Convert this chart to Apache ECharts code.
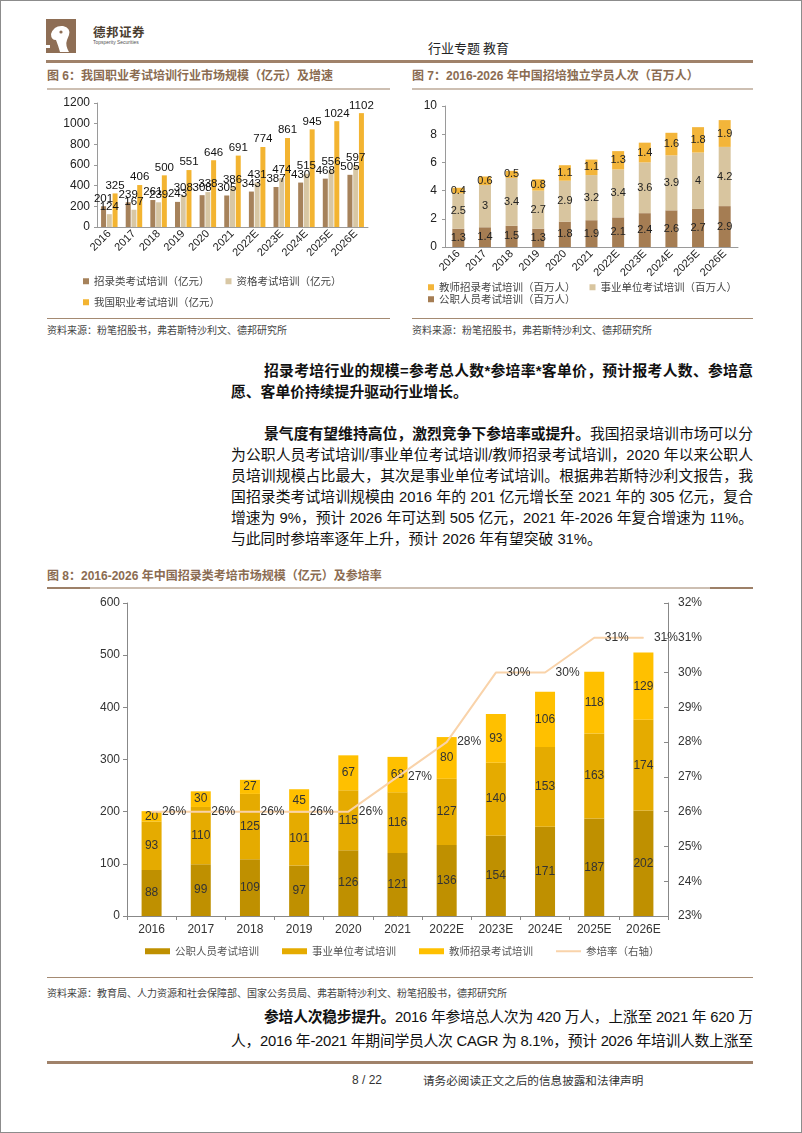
<!DOCTYPE html>
<html>
<head>
<meta charset="utf-8">
<script src="https://cdn.jsdelivr.net/npm/echarts/dist/echarts.min.js"></script>
<style>
  html,body{margin:0;padding:0;background:#fff;}
  body{width:802px;height:1133px;position:relative;overflow:hidden;font-family:"Liberation Sans","Noto Sans CJK SC",sans-serif;}
  .abs{position:absolute;}
  .frame{left:0;top:0;width:802px;height:1133px;box-sizing:border-box;border:1px solid #8c8c8c;}
  .ftitle{font-size:12px;line-height:14px;font-weight:bold;color:#8b6c52;white-space:nowrap;}
  .src{font-size:10px;line-height:12px;color:#444;white-space:nowrap;}
  .jl{font-size:14.8px;line-height:20px;color:#111;white-space:nowrap;}
  .jl b{font-weight:bold;}
</style>
</head>
<body>
<div class="abs frame"></div>

<!-- header -->
<svg class="abs" style="left:46px;top:19px" width="32" height="35">
  <rect x="0" y="0" width="30" height="34" fill="#8e6e55"/>
  <path d="M5 15 Q8 6 17 7 Q25 9 23 16 L21 21 Q19 26 23 33 L14 33 Q12 26 10 21 Q5 21 5 15 Z" fill="#fff"/>
  <circle cx="15" cy="13" r="1.6" fill="#8e6e55"/>
  <rect x="0" y="26" width="4" height="3" fill="#fff"/>
</svg>
<div class="abs" style="left:93px;top:25px;font-size:12.5px;line-height:14px;font-weight:bold;color:#4b3d30;letter-spacing:0.5px;font-family:'Noto Sans CJK SC'">德邦证券</div>
<div class="abs" style="left:93px;top:40px;font-size:8px;line-height:8px;color:#555;transform:scale(0.62);transform-origin:0 0;white-space:nowrap">Topsperity Securities</div>
<div class="abs" style="left:428px;top:40px;font-size:13px;line-height:15px;color:#222;font-family:'Noto Sans CJK SC'">行业专题 教育</div>
<div class="abs" style="left:46px;top:60px;width:707px;height:3px;background:#a0826a"></div>

<!-- figure titles -->
<div class="abs ftitle" style="left:47px;top:69px">图 6：我国职业考试培训行业市场规模（亿元）及增速</div>
<div class="abs" style="left:47px;top:88px;width:343px;height:2px;background:#cdbfb2"></div>
<div class="abs ftitle" style="left:412px;top:69px">图 7：2016-2026 年中国招培独立学员人次（百万人）</div>
<div class="abs" style="left:412px;top:88px;width:341px;height:2px;background:#cdbfb2"></div>

<div id="c6" class="abs" style="left:40px;top:92px;width:360px;height:226px"></div>
<div id="c7" class="abs" style="left:405px;top:92px;width:360px;height:226px"></div>

<div class="abs" style="left:47px;top:318px;width:343px;height:1px;background:#a48a72"></div>
<div class="abs src" style="left:47px;top:325px">资料来源：粉笔招股书，弗若斯特沙利文、德邦研究所</div>
<div class="abs" style="left:412px;top:318px;width:341px;height:1px;background:#a48a72"></div>
<div class="abs src" style="left:412px;top:325px">资料来源：粉笔招股书，弗若斯特沙利文、德邦研究所</div>

<!-- paragraphs -->
<div class="abs jl fit" style="left:264px;top:361px;width:489px"><span><b>招录考培行业的规模=参考总人数*参培率*客单价，预计报考人数、参培意</b></span></div>
<div class="abs jl" style="left:231px;top:382px;width:522px"><span><b>愿、客单价持续提升驱动行业增长。</b></span></div>

<div class="abs jl fit" style="left:264px;top:424px;width:489px"><span><b>景气度有望维持高位，激烈竞争下参培率或提升。</b>我国招录培训市场可以分</span></div>
<div class="abs jl fit" style="left:231px;top:445px;width:522px"><span>为公职人员考试培训/事业单位考试培训/教师招录考试培训，2020 年以来公职人</span></div>
<div class="abs jl fit" style="left:231px;top:466px;width:522px"><span>员培训规模占比最大，其次是事业单位考试培训。根据弗若斯特沙利文报告，我</span></div>
<div class="abs jl fit" style="left:231px;top:487px;width:522px"><span>国招录类考试培训规模由 2016 年的 201 亿元增长至 2021 年的 305 亿元，复合</span></div>
<div class="abs jl fit" style="left:231px;top:508px;width:522px"><span>增速为 9%，预计 2026 年可达到 505 亿元，2021 年-2026 年复合增速为 11%。</span></div>
<div class="abs jl" style="left:231px;top:529px;width:522px"><span>与此同时参培率逐年上升，预计 2026 年有望突破 31%。</span></div>

<!-- figure 8 -->
<div class="abs ftitle" style="left:47px;top:569px">图 8：2016-2026 年中国招录类考培市场规模（亿元）及参培率</div>
<div class="abs" style="left:47px;top:587px;width:706px;height:2px;background:#cdbfb2"></div>
<div class="abs" style="left:47px;top:587px;width:43px;height:2px;background:#9d8068"></div>
<div class="abs" style="left:710px;top:587px;width:43px;height:2px;background:#9d8068"></div>
<div id="c8" class="abs" style="left:40px;top:592px;width:722px;height:380px"></div>
<div class="abs" style="left:47px;top:977px;width:706px;height:1px;background:#a48a72"></div>
<div class="abs src" style="left:47px;top:988px">资料来源：教育局、人力资源和社会保障部、国家公务员局、弗若斯特沙利文、粉笔招股书，德邦研究所</div>

<div class="abs jl fit" style="left:264px;top:1007px;width:489px"><span><b>参培人次稳步提升。</b>2016 年参培总人次为 420 万人，上涨至 2021 年 620 万</span></div>
<div class="abs jl fit" style="left:231px;top:1031px;width:522px"><span>人，2016 年-2021 年期间学员人次 CAGR 为 8.1%，预计 2026 年培训人数上涨至</span></div>

<!-- footer -->
<div class="abs" style="left:47px;top:1061px;width:706px;height:3px;background:#a0826a"></div>
<div class="abs" style="left:352px;top:1073px;font-size:12px;line-height:14px;color:#333">8 / 22</div>
<div class="abs" style="left:423px;top:1073px;font-size:11.6px;line-height:14px;color:#333;font-family:'Noto Sans CJK SC';white-space:nowrap">请务必阅读正文之后的信息披露和法律声明</div>

<script>
// ---------- data ----------
const years = ['2016','2017','2018','2019','2020','2021','2022E','2023E','2024E','2025E','2026E'];

// Figure 6 (亿元)
const fig6Recruit       = [201,239,261,243,308,305,343,387,430,468,505];
const fig6Qualification = [124,167,239,308,338,386,431,474,515,556,597];
const fig6Vocational    = [325,406,500,551,646,691,774,861,945,1024,1102];

// Figure 7 (百万人)
const fig7Civil   = [1.3,1.4,1.5,1.3,1.8,1.9,2.1,2.4,2.6,2.7,2.9];
const fig7Public  = [2.5,3,3.4,2.7,2.9,3.2,3.4,3.6,3.9,4,4.2];
const fig7Teacher = [0.4,0.6,0.5,0.8,1.1,1.1,1.3,1.4,1.6,1.8,1.9];

// Figure 8 (亿元, %)
const fig8Civil   = [88,99,109,97,126,121,136,154,171,187,202];
const fig8Public  = [93,110,125,101,115,116,127,140,153,163,174];
const fig8Teacher = [20,30,27,45,67,68,80,93,106,118,129];
const fig8Rate    = [26,26,26,26,26,27,28,30,30,31,31];

const FONT = '"Liberation Sans","Noto Sans CJK SC",sans-serif';
const CJK = '"Noto Sans CJK SC",sans-serif';

// ---------- justify lines ----------
document.querySelectorAll('.fit').forEach(el => {
  const span = el.firstElementChild;
  const w = span.getBoundingClientRect().width;
  const target = parseFloat(el.style.width);
  const n = span.textContent.length;
  span.style.letterSpacing = ((target - w) / (n - 1)) + 'px';
});

const axisGray = '#9a9a9a';
const plain = v => String(v);

// ---------- Figure 6 ----------
const lg6 = {padding:0,itemWidth:6,itemHeight:6,itemGap:16,icon:'rect',textStyle:{fontSize:10.5,color:'#444',fontFamily:CJK}};
echarts.init(document.getElementById('c6')).setOption({
  animation:false,
  textStyle:{fontFamily:FONT},
  grid:{left:57,right:32,top:11,bottom:91},
  legend:[
    Object.assign({data:['招录类考试培训（亿元）','资格考试培训（亿元）'],left:43,top:184},lg6),
    Object.assign({data:['我国职业考试培训（亿元）'],left:43,top:205},lg6)
  ],
  xAxis:{type:'category',data:years,
    axisLine:{lineStyle:{color:axisGray}},axisTick:{show:false},
    axisLabel:{rotate:45,interval:0,fontSize:11,color:'#222',margin:5}},
  yAxis:{type:'value',min:0,max:1200,interval:200,
    axisLine:{show:true,lineStyle:{color:axisGray}},
    axisTick:{show:true,length:3,lineStyle:{color:axisGray}},
    splitLine:{show:false},
    axisLabel:{fontSize:12,color:'#222',margin:7,formatter:plain}},
  series:[
    {name:'招录类考试培训（亿元）',type:'bar',data:fig6Recruit,barWidth:5,barGap:'15%',
      itemStyle:{color:'#a6825b'},label:{show:true,position:'top',distance:2,fontSize:11.5,color:'#111'}},
    {name:'资格考试培训（亿元）',type:'bar',data:fig6Qualification,barWidth:5,barGap:'15%',
      itemStyle:{color:'#d8c7a4'},label:{show:true,position:'top',distance:2,fontSize:11.5,color:'#111'}},
    {name:'我国职业考试培训（亿元）',type:'bar',data:fig6Vocational,barWidth:5,barGap:'15%',
      itemStyle:{color:'#f3b431'},label:{show:true,position:'top',distance:2,fontSize:11.5,color:'#111'}}
  ]
});

// ---------- Figure 7 ----------
const lg7 = {padding:0,itemWidth:6,itemHeight:6,itemGap:14,icon:'rect',textStyle:{fontSize:10.5,color:'#444',fontFamily:CJK}};
const lbl7 = {show:true,position:'inside',fontSize:11,color:'#222'};
echarts.init(document.getElementById('c7')).setOption({
  animation:false,
  textStyle:{fontFamily:FONT},
  grid:{left:40,right:27,top:14,bottom:71},
  legend:[
    Object.assign({data:['教师招录考试培训（百万人）','事业单位考试培训（百万人）'],left:23,top:190},lg7),
    Object.assign({data:['公职人员考试培训（百万人）'],left:23,top:202},lg7)
  ],
  xAxis:{type:'category',data:years,
    axisLine:{lineStyle:{color:axisGray}},axisTick:{show:false},
    axisLabel:{rotate:45,interval:0,fontSize:11,color:'#222',margin:5}},
  yAxis:{type:'value',min:0,max:10,interval:2,
    axisLine:{show:true,lineStyle:{color:axisGray}},
    axisTick:{show:true,length:3,lineStyle:{color:axisGray}},
    splitLine:{show:false},
    axisLabel:{fontSize:12,color:'#222',margin:8}},
  series:[
    {name:'公职人员考试培训（百万人）',type:'bar',stack:'s',data:fig7Civil,barWidth:12,itemStyle:{color:'#a57d53'},label:lbl7},
    {name:'事业单位考试培训（百万人）',type:'bar',stack:'s',data:fig7Public,barWidth:12,itemStyle:{color:'#d8c59f'},label:lbl7},
    {name:'教师招录考试培训（百万人）',type:'bar',stack:'s',data:fig7Teacher,barWidth:12,itemStyle:{color:'#f3b53a'},label:lbl7}
  ]
});

// ---------- Figure 8 ----------
const lbl8 = {show:true,position:'inside',fontSize:12,color:'#333'};
const rateColor = '#f9d3aa';
echarts.init(document.getElementById('c8')).setOption({
  animation:false,
  textStyle:{fontFamily:FONT},
  grid:{left:87,right:94,top:11,bottom:56},
  legend:{left:105,top:354,padding:0,itemWidth:25,itemHeight:6,itemGap:23,
    textStyle:{fontSize:10.5,color:'#555',fontFamily:CJK},
    data:[
      {name:'公职人员考试培训',icon:'rect'},
      {name:'事业单位考试培训',icon:'rect'},
      {name:'教师招录考试培训',icon:'rect'},
      {name:'参培率（右轴）',icon:'path://M0 0H50V4H0Z',itemStyle:{color:rateColor,opacity:1}}
    ]},
  xAxis:{type:'category',data:years,
    axisLine:{lineStyle:{color:'#888'}},
    axisTick:{show:true,length:4,lineStyle:{color:'#888'}},
    axisLabel:{interval:0,fontSize:12,color:'#333',margin:8}},
  yAxis:[
    {type:'value',min:0,max:600,interval:100,
      axisLine:{show:true,lineStyle:{color:'#888'}},
      axisTick:{show:true,length:4,lineStyle:{color:'#888'}},
      splitLine:{show:false},
      axisLabel:{fontSize:12,color:'#333',margin:7}},
    {type:'value',position:'right',min:23,max:32,interval:1,
      axisLine:{show:true,lineStyle:{color:'#888'}},
      axisTick:{show:true,inside:true,length:4,lineStyle:{color:'#888'}},
      splitLine:{show:false},
      axisLabel:{fontSize:12,color:'#333',margin:10,formatter:'{value}%'}}
  ],
  series:[
    {name:'公职人员考试培训',type:'bar',stack:'t',data:fig8Civil,barWidth:20,itemStyle:{color:'#bf9000'},label:lbl8},
    {name:'事业单位考试培训',type:'bar',stack:'t',data:fig8Public,barWidth:20,itemStyle:{color:'#e5ab00'},label:lbl8},
    {name:'教师招录考试培训',type:'bar',stack:'t',data:fig8Teacher,barWidth:20,itemStyle:{color:'#ffc000'},label:lbl8},
    {name:'参培率（右轴）',type:'line',yAxisIndex:1,data:fig8Rate,
      symbol:'circle',symbolSize:1,showSymbol:true,
      lineStyle:{color:rateColor,width:2},itemStyle:{color:rateColor},
      label:{show:true,position:'right',distance:10,fontSize:12,color:'#333',formatter:'{c}%'},
      labelLayout:{hideOverlap:false}}
  ]
});
</script>
</body>
</html>
